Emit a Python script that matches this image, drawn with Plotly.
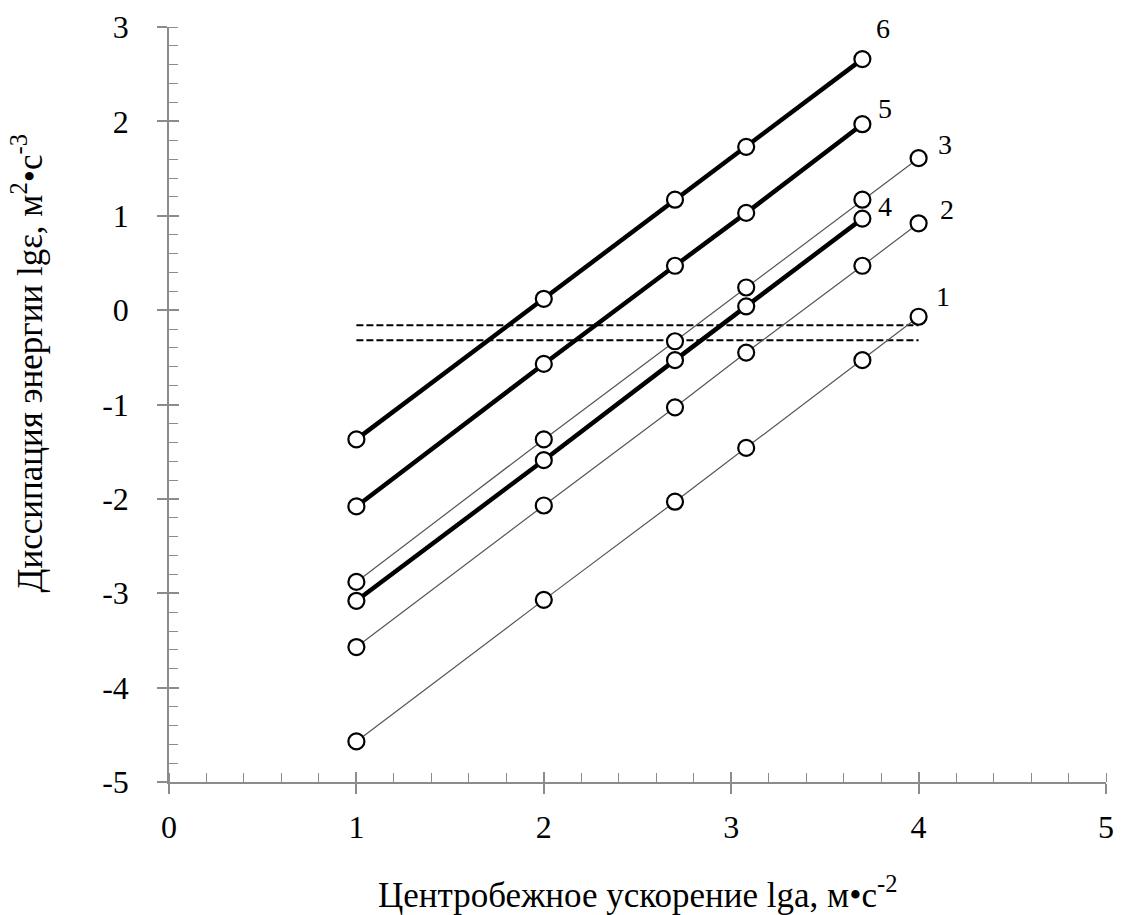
import plotly.graph_objects as go

# Data (lg a, lg eps)
x_full = [1, 2, 2.7, 3.08, 3.7, 4]
x_short = [1, 2, 2.7, 3.08, 3.7]
s1 = [-4.57, -3.07, -2.03, -1.46, -0.53, -0.07]
s2 = [-3.57, -2.07, -1.03, -0.45, 0.47, 0.92]
s3 = [-2.88, -1.37, -0.33, 0.24, 1.17, 1.61]
s4 = [-3.08, -1.59, -0.53, 0.04, 0.97]
s5 = [-2.08, -0.57, 0.47, 1.03, 1.97]
s6 = [-1.37, 0.12, 1.17, 1.73, 2.66]

dash_x = [1, 4]
dash_y1 = -0.16
dash_y2 = -0.32

labels = ["1", "2", "3", "4", "5", "6"]
label_x = [4.13, 4.15, 4.14, 3.82, 3.82, 3.81]
label_y = [0.14, 1.07, 1.76, 1.10, 2.14, 2.98]

x_tickvals = [0, 1, 2, 3, 4, 5]
x_ticktext = ["0", "1", "2", "3", "4", "5"]
y_tickvals = [-5, -4, -3, -2, -1, 0, 1, 2, 3]
y_ticktext = ["-5", "-4", "-3", "-2", "-1", "0", "1", "2", "3"]

FONT = "Liberation Serif, Times New Roman, serif"

fig = go.Figure()

def add_series(xs, ys, thick):
    fig.add_trace(go.Scatter(
        x=xs, y=ys, mode="lines+markers",
        line=dict(color="black" if thick else "#555555", width=4.5 if thick else 1.2),
        marker=dict(symbol="circle", size=16, color="white",
                    line=dict(color="black", width=2.2)),
        showlegend=False, cliponaxis=False))

# dashed lines first (beneath markers)
for yv in (dash_y1, dash_y2):
    fig.add_trace(go.Scatter(x=dash_x, y=[yv, yv], mode="lines",
                             line=dict(color="black", width=2, dash="7px,3px"),
                             showlegend=False))

add_series(x_full, s1, False)
add_series(x_full, s2, False)
add_series(x_full, s3, False)
add_series(x_short, s4, True)
add_series(x_short, s5, True)
add_series(x_short, s6, True)

# invisible trace for overlay axes (inner halves of major ticks)
fig.add_trace(go.Scatter(x=[0.5], y=[0], xaxis="x2", yaxis="y2", mode="markers",
                         marker=dict(size=1, opacity=0),
                         showlegend=False, hoverinfo="skip"))

for t, lx, ly in zip(labels, label_x, label_y):
    fig.add_annotation(x=lx, y=ly, text=t, showarrow=False,
                       font=dict(family=FONT, size=28, color="black"))

axis_common = dict(showline=True, linecolor="#8c8c8c", linewidth=1.5,
                   showgrid=False, zeroline=False, ticks="outside",
                   ticklen=10, tickwidth=1.5, tickcolor="#8c8c8c",
                   tickfont=dict(family=FONT, size=32, color="black"),
                   minor=dict(ticks="inside", ticklen=9, tickwidth=1.3,
                              tickcolor="#8c8c8c", dtick=0.2, showgrid=False))

fig.update_layout(
    width=1123, height=915,
    margin=dict(l=169, r=9, t=25, b=133),
    paper_bgcolor="white", plot_bgcolor="white",
    xaxis=dict(range=[0, 5], tickmode="array", tickvals=x_tickvals, ticktext=x_ticktext,
               ticklabelstandoff=6, **axis_common),
    yaxis=dict(range=[-5, 3], tickmode="array", tickvals=y_tickvals, ticktext=y_ticktext,
               ticklabelstandoff=22, **axis_common),
    xaxis2=dict(overlaying="x", range=[0, 5], tickmode="array", tickvals=x_tickvals,
                ticks="inside", ticklen=10, tickwidth=1.5, tickcolor="#8c8c8c",
                showticklabels=False, showgrid=False, zeroline=False, showline=False,
                anchor="y2"),
    yaxis2=dict(overlaying="y", range=[-5, 3], tickmode="array", tickvals=y_tickvals,
                ticks="inside", ticklen=10, tickwidth=1.5, tickcolor="#8c8c8c",
                showticklabels=False, showgrid=False, zeroline=False, showline=False,
                anchor="x2"),
    showlegend=False,
)

# axis titles
fig.add_annotation(xref="paper", yref="paper", x=0.5, y=-0.147,
                   text="Центробежное ускорение lga, м•с<sup>-2</sup>",
                   showarrow=False, xanchor="center", yanchor="middle",
                   font=dict(family=FONT, size=35, color="black"))
fig.add_annotation(xref="paper", yref="paper", x=-0.15, y=0.555,
                   text="Диссипация энергии lgε, м<sup>2</sup>•с<sup>-3</sup>",
                   showarrow=False, textangle=-90, xanchor="center", yanchor="middle",
                   font=dict(family=FONT, size=35, color="black"))

fig.write_html("out.html")
